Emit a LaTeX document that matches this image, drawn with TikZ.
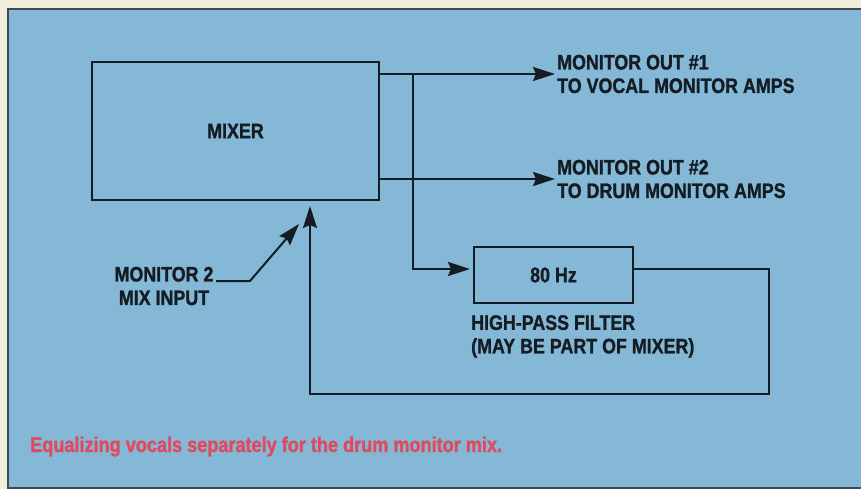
\documentclass[tikz,border=0pt]{standalone}
\usepackage{fontspec}
\setmainfont{Liberation Sans}[FakeStretch=0.85, BoldFeatures={FakeBold=1.2}]
\usetikzlibrary{arrows.meta}
\definecolor{panel}{HTML}{84B8D6}
\definecolor{frame}{HTML}{F2EEDC}
\definecolor{ink}{HTML}{141C24}
\definecolor{capred}{HTML}{E04A5E}
\begin{document}
\begin{tikzpicture}[x=1pt,y=-1pt,
  lbl/.style={font=\fontsize{21}{23.5}\selectfont\bfseries, text=ink, inner sep=0pt},
  box/.style={draw=ink, line width=2pt, inner sep=0pt, lbl},
  wire/.style={draw=ink, line width=2pt},
  arr/.style={wire, -{Stealth[length=22pt,width=14pt,inset=3pt]}}]
\useasboundingbox (0,0) rectangle (861,489);
\fill[frame] (0,0) rectangle (861,489);
\fill[panel] (8,9) rectangle (861,488);
\draw[ink!80, line width=2pt] (861,9) -- (8,9) -- (8,488) -- (861,488);

\node[box, minimum width=287pt, minimum height=138pt] (mixer) at (235.5,131) {MIXER};
\node[box, minimum width=159pt, minimum height=56pt] (filter) at (553.5,275) {80 Hz};

\node[lbl, anchor=west, align=left] (out1) at (557,74) {MONITOR OUT \#1\\TO VOCAL MONITOR AMPS};
\node[lbl, anchor=west, align=left] (out2) at (557,179) {MONITOR OUT \#2\\TO DRUM MONITOR AMPS};
\node[lbl, anchor=north west, align=left] (hpf) at (471,315) {HIGH-PASS FILTER\\(MAY BE PART OF MIXER)};
\node[lbl, align=center] (mixin) at (164,286) {MONITOR 2\\MIX INPUT};

\node[font=\fontsize{21.3}{24}\selectfont\bfseries, text=capred, anchor=base west, inner sep=0pt] (caption) at (30,452) {Equalizing vocals separately for the drum monitor mix.};

\draw[arr, shorten >=2pt] (mixer.east |- out1.west) -- (out1.west);
\draw[arr, shorten >=2pt] (mixer.east |- out2.west) -- (out2.west);
\coordinate (tap) at (413,74);
\draw[arr, shorten >=3pt] (tap) |- ([yshift=6pt]filter.west);
\draw[arr, shorten >=5pt] ([yshift=6pt]filter.east) -| (769,394) -| ([xshift=74.5pt]mixer.south);
\coordinate (lead) at (216,281);
\coordinate (mixtip) at (299,224);
\draw[arr] (lead) -- (250,281) -- (mixtip);
\end{tikzpicture}
\end{document}
